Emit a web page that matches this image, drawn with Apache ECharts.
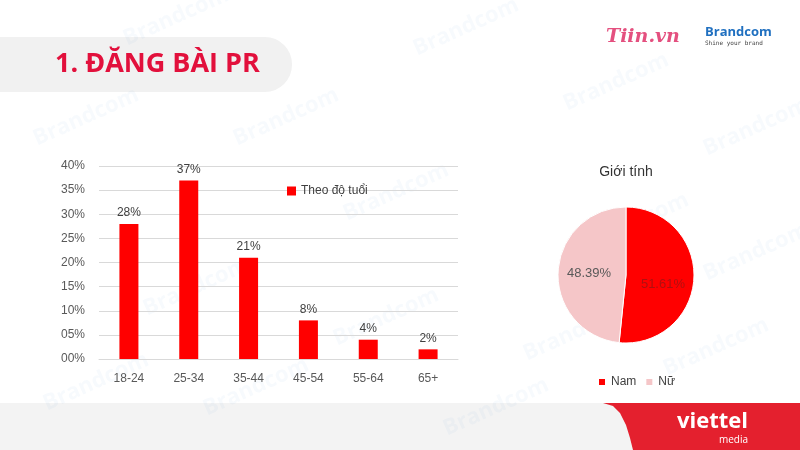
<!DOCTYPE html>
<html>
<head>
<meta charset="utf-8">
<script src="https://cdn.jsdelivr.net/npm/echarts@6/dist/echarts.min.js"></script>
<style>
html,body{margin:0;padding:0;background:#fff;}
#c{width:800px;height:450px;}
</style>
</head>
<body>
<div id="c"></div>
<script>
var ageCategories = ['18-24', '25-34', '35-44', '45-54', '55-64', '65+'];
var ageValues = [28, 37, 21, 8, 4, 2];
var ageSeriesName = 'Theo độ tuổi';
var genderNames = ['Nam', 'Nữ'];
var genderValues = [51.61, 48.39];

var chart = echarts.init(document.getElementById('c'));
var FONT = '"Liberation Sans", "Noto Sans", sans-serif';

var watermarks = [[120,30],[410,40],[560,95],[700,140],[30,130],[230,130],[340,205],[580,235],[700,265],[140,300],[330,330],[520,345],[40,395],[200,400],[440,420],[660,360]];
var wmGraphics = watermarks.map(function (p) {
  return {
    type: 'text', x: p[0], y: p[1], rotation: 0.42, z: 0, silent: true,
    style: { text: 'Brandcom', font: 'bold 22px "Open Sans", sans-serif', fill: 'rgba(40,110,190,0.035)' }
  };
});

var option = {
  backgroundColor: '#ffffff',
  animation: false,
  graphic: [
    { type: 'rect', z: -1, shape: { x: -30, y: 37, width: 322, height: 55, r: 27 }, style: { fill: '#f1f1f1' } },
    { type: 'text', x: 55, y: 64, z: 5, style: { text: '1. ĐĂNG BÀI PR', font: 'bold 27px "Open Sans", sans-serif', fill: '#e2103c', textVerticalAlign: 'middle' } },
    { type: 'text', x: 606, y: 37, z: 5, style: { text: 'Tiin.vn', font: 'italic bold 19px "DejaVu Serif", serif', fill: '#e4507f', textVerticalAlign: 'middle' } },
    { type: 'text', x: 705, y: 32, z: 5, style: { text: 'Brandcom', font: 'bold 13px "Open Sans", sans-serif', fill: '#2070c0', textVerticalAlign: 'middle' } },
    { type: 'text', x: 705, y: 43, z: 5, style: { text: 'Shine your brand', font: '6px "DejaVu Sans Mono", monospace', fill: '#444444', textVerticalAlign: 'middle' } },
    { type: 'rect', z: -1, shape: { x: 0, y: 403, width: 800, height: 47 }, style: { fill: '#f3f3f3' } },
    { type: 'polygon', z: 1, shape: { points: [[603,403],[800,403],[800,450],[633,450],[630,438],[626,425],[620,413],[613,406]] }, style: { fill: '#e4202e' } },
    { type: 'text', x: 748, y: 422, z: 5, style: { text: 'viettel', font: 'bold 22px "Open Sans", sans-serif', fill: '#ffffff', textAlign: 'right', textVerticalAlign: 'middle' } },
    { type: 'text', x: 748, y: 440, z: 5, style: { text: 'media', font: '10px "Open Sans", sans-serif', fill: '#ffffff', textAlign: 'right', textVerticalAlign: 'middle' } },
    { type: 'text', x: 626, y: 172, z: 5, style: { text: 'Giới tính', font: '14px ' + FONT, fill: '#333333', textAlign: 'center', textVerticalAlign: 'middle' } }
  ].concat(wmGraphics),
  legend: [
    {
      data: [ageSeriesName], left: 282, top: 180, itemWidth: 9, itemHeight: 9, itemGap: 4,
      icon: 'rect', textStyle: { fontFamily: FONT, fontSize: 12, color: '#404040' }
    },
    {
      data: genderNames, left: 592, top: 371, itemWidth: 8, itemHeight: 8, itemGap: 8,
      icon: 'rect', textStyle: { fontFamily: FONT, fontSize: 12, color: '#404040' }
    }
  ],
  grid: { left: 99, right: 342, top: 166, bottom: 91, containLabel: false },
  xAxis: {
    type: 'category', data: ageCategories,
    axisLine: { lineStyle: { color: '#d9d9d9' } },
    axisTick: { show: false },
    axisLabel: { fontFamily: FONT, fontSize: 12, color: '#595959', margin: 14 }
  },
  yAxis: {
    type: 'value', min: 0, max: 40, interval: 5,
    axisLine: { show: false }, axisTick: { show: false },
    splitLine: { lineStyle: { color: '#d9d9d9' } },
    axisLabel: {
      fontFamily: FONT, fontSize: 12, color: '#595959', margin: 14,
      formatter: function (v) { return (v < 10 ? '0' : '') + v + '%'; }
    }
  },
  series: [
    {
      name: ageSeriesName, type: 'bar', data: ageValues, barWidth: 19,
      itemStyle: { color: '#ff0000' },
      label: { show: true, position: 'top', distance: 5, formatter: '{c}%', fontFamily: FONT, fontSize: 12, color: '#404040' }
    },
    {
      name: 'Giới tính', type: 'pie', center: [626, 275], radius: 68,
      startAngle: 90, clockwise: true,
      data: genderNames.map(function (n, i) { return { name: n, value: genderValues[i] }; }),
      color: ['#ff0000', '#f5c6c8'],
      itemStyle: { borderColor: '#ffffff', borderWidth: 1 },
      label: {
        show: true, position: 'inside', fontFamily: FONT, fontSize: 13,
        formatter: function (p) { return p.value.toFixed(2) + '%'; },
        color: '#595959'
      },
      labelLine: { show: false },
      emphasis: { disabled: true }
    }
  ]
};
option.series[1].data[0].label = { color: '#b01010', offset: [0, 8] };
chart.setOption(option);
</script>
</body>
</html>
